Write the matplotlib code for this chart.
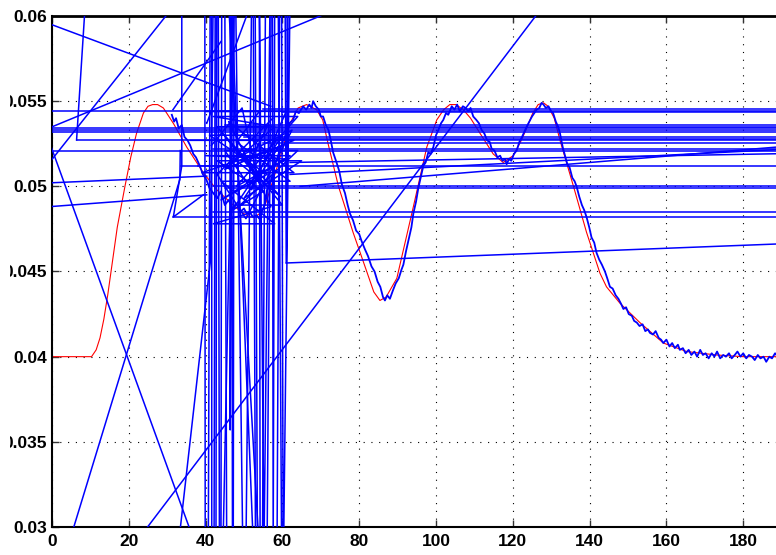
import numpy as np
import matplotlib
matplotlib.use("Agg")
import matplotlib.pyplot as plt
from matplotlib.patches import Rectangle

# ---------------- data ----------------
x_ticks = [0, 20, 40, 60, 80, 100, 120, 140, 160, 180]
x_tick_labels = ['0', '20', '40', '60', '80', '100', '120', '140', '160', '180']
y_ticks = [0.03, 0.035, 0.04, 0.045, 0.05, 0.055, 0.06]
y_tick_labels = ['0.03', '0.035', '0.04', '0.045', '0.05', '0.055', '0.06']

# reference (red) curve
red_x = [0, 10.3, 11.5, 12.5, 13.5, 14.5, 15.5, 17.0, 19.0, 20.5,
         22.0, 23.8, 25.0, 26.2, 27.5, 29.0, 31.6, 35.1, 39.4, 42.9,
         47.2, 49.5, 51.6, 53.0, 54.2, 55.5, 56.8, 59.4, 62.0, 64.1,
         66.3, 68.9, 70.5, 71.9, 74.6, 78.4, 81.5, 83.8, 85.4, 87.0,
         89.8, 94.1, 97.6, 100.2, 102.0, 103.6, 105.2, 107.1, 109.0, 111.5,
         114.9, 117.5, 120.1, 122.0, 123.6, 125.2, 126.6, 128.0, 129.2, 130.8,
         132.3, 135.8, 139.2, 142.7, 144.4, 147.9, 153.1, 159.2, 165.3, 173.0,
         180.0, 190.0, 200.0]
red_y = [0.0400, 0.0400, 0.0404, 0.0411, 0.0422, 0.0436, 0.0452, 0.0476, 0.0500, 0.0517,
         0.0531, 0.0543, 0.0547, 0.0548, 0.0548, 0.0546, 0.0537, 0.0523, 0.0508, 0.0498,
         0.0489, 0.04845, 0.0482, 0.04823, 0.04842, 0.0489, 0.0498, 0.0517, 0.0537, 0.0546,
         0.0548, 0.0545, 0.0539, 0.0525, 0.0500, 0.0473, 0.0453, 0.0438, 0.0433, 0.0435,
         0.0446, 0.0488, 0.0523, 0.0539, 0.0545, 0.0548, 0.0548, 0.0545, 0.0540, 0.0531,
         0.0519, 0.0514, 0.0518, 0.0526, 0.0534, 0.0543, 0.0548, 0.0549, 0.0547, 0.0540,
         0.0527, 0.0500, 0.0473, 0.0449, 0.0441, 0.04314, 0.0420, 0.0408, 0.0403, 0.0401,
         0.0400, 0.0400, 0.0400]

# measured (blue) trace, (x, y) samples
blue_trace = [
    (31.2, 0.0542), (31.8, 0.0538), (32.3, 0.0540), (33.0, 0.0534), (33.8, 0.0536),
    (34.5, 0.0529), (35.3, 0.0527), (36.0, 0.0524), (36.8, 0.0519), (37.5, 0.0517),
    (38.5, 0.0512), (39.3, 0.0507), (40.2, 0.0504), (41.0, 0.0499), (42.0, 0.0496),
    (43.0, 0.0493), (44.0, 0.0497), (45.0, 0.0489), (46.0, 0.0492), (47.0, 0.0487),
    (48.0, 0.0490), (49.0, 0.0485), (50.0, 0.0487), (50.7, 0.0484), (51.5, 0.0485),
    (52.3, 0.0482), (53.3, 0.0483), (54.0, 0.0481), (54.8, 0.0486), (55.5, 0.0490),
    (56.0, 0.0498), (57.0, 0.0503), (58.0, 0.0512), (59.0, 0.0519), (60.2, 0.0527),
    (61.0, 0.0531), (61.8, 0.0537), (62.8, 0.0539), (63.5, 0.0544), (64.3, 0.0543),
    (65.4, 0.0547), (66.2, 0.0545), (67.0, 0.0548), (67.6, 0.0546), (68.0, 0.0550),
    (68.7, 0.0547), (69.5, 0.0545), (70.0, 0.0541), (70.6, 0.0541), (71.3, 0.0536),
    (72.0, 0.0533), (72.6, 0.0527), (73.2, 0.0520), (74.1, 0.0514), (74.8, 0.0509),
    (75.5, 0.0501), (76.3, 0.0496), (77.0, 0.0489), (77.6, 0.0484), (78.4, 0.0480),
    (79.2, 0.0474), (80.0, 0.0472), (80.6, 0.0468), (81.5, 0.0463), (82.3, 0.0459),
    (83.2, 0.0453), (84.0, 0.0450), (84.8, 0.0444), (85.5, 0.0441), (86.2, 0.0435),
    (86.7, 0.0433), (87.3, 0.0436), (88.0, 0.0434), (88.8, 0.0439), (89.5, 0.0443),
    (90.3, 0.0446), (91.0, 0.0451), (91.5, 0.0454), (92.2, 0.0462), (93.0, 0.0470),
    (93.6, 0.0476), (94.1, 0.0484), (94.8, 0.0491), (95.4, 0.0499), (96.0, 0.0505),
    (96.7, 0.0512), (97.3, 0.0514), (98.0, 0.0520), (98.6, 0.0519), (99.3, 0.0523),
    (100.0, 0.0530), (100.6, 0.0533), (101.3, 0.0537), (101.9, 0.0539), (102.6, 0.0543),
    (103.2, 0.0542), (104.1, 0.0547), (104.8, 0.0545), (105.5, 0.0548), (106.2, 0.0544),
    (107.0, 0.0547), (107.7, 0.0546), (108.4, 0.0544), (109.0, 0.0546), (109.7, 0.0541),
    (110.5, 0.0539), (111.2, 0.0537), (111.9, 0.0533), (112.6, 0.0531), (113.3, 0.0527),
    (114.0, 0.0526), (114.5, 0.0522), (115.2, 0.0521), (116.0, 0.0517), (116.7, 0.0518),
    (117.3, 0.0515), (118.0, 0.0516), (118.4, 0.0513), (119.0, 0.0516), (119.6, 0.0515),
    (120.3, 0.0519), (121.0, 0.0521), (121.7, 0.0526), (122.4, 0.0529), (123.0, 0.0532),
    (123.6, 0.0535), (124.3, 0.0538), (125.0, 0.0541), (125.6, 0.0543), (126.2, 0.0545),
    (126.9, 0.0546), (127.5, 0.0549), (128.0, 0.0548), (128.6, 0.0546), (129.3, 0.0547),
    (130.0, 0.0544), (130.5, 0.0543), (131.2, 0.0538), (131.8, 0.0535), (132.3, 0.0531),
    (133.0, 0.0523), (133.6, 0.0518), (134.2, 0.0513), (134.8, 0.0511), (135.5, 0.0505),
    (136.1, 0.0503), (136.6, 0.0500), (137.3, 0.0494), (138.0, 0.0489), (138.6, 0.0486),
    (139.2, 0.0482), (139.9, 0.0476), (140.5, 0.0470), (141.2, 0.0467), (141.8, 0.0461),
    (142.5, 0.0457), (143.2, 0.0454), (144.0, 0.0450), (144.6, 0.0446), (145.3, 0.0441),
    (146.0, 0.0440), (146.8, 0.0436), (147.5, 0.0434), (148.2, 0.0431), (148.8, 0.0428),
    (149.5, 0.0429), (150.2, 0.0425), (151.0, 0.0424), (151.6, 0.0421), (152.3, 0.0420),
    (153.0, 0.0418), (153.8, 0.0419), (154.5, 0.0415), (155.2, 0.0416), (155.7, 0.0414),
    (156.5, 0.0413), (157.2, 0.0415), (158.0, 0.0411), (158.6, 0.0410), (159.2, 0.0408),
    (160.0, 0.0410), (160.8, 0.0406), (161.5, 0.0408), (162.2, 0.0405), (163.0, 0.0407),
    (163.5, 0.0404), (164.3, 0.0405), (165.0, 0.0402), (165.8, 0.0404), (166.5, 0.0401),
    (167.3, 0.0403), (168.0, 0.0400), (168.8, 0.0404), (169.5, 0.0401), (170.2, 0.0402),
    (171.0, 0.0399), (171.8, 0.0402), (172.5, 0.0400), (173.2, 0.0403), (174.0, 0.0399),
    (174.8, 0.0401), (175.5, 0.0400), (176.3, 0.0402), (177.0, 0.0399), (177.8, 0.0401),
    (178.5, 0.0403), (179.3, 0.0400), (180.0, 0.0402), (180.8, 0.0399), (181.5, 0.0401),
    (182.3, 0.0400), (183.0, 0.0398), (183.8, 0.0401), (184.5, 0.0399), (185.3, 0.0400),
    (186.0, 0.0397), (186.8, 0.0400), (187.5, 0.0399), (188.3, 0.0402), (189.0, 0.0400),
    (189.8, 0.0401),
]

# spurious (glitch) horizontal lines of the blue trace: full width levels
glitch_full_levels = [0.0544, 0.0534, 0.0533, 0.0532, 0.0521]
# glitch lines starting at (x, y) and running off the right edge
glitch_right_starts = [(6.4, 0.05272), (55.0, 0.05454), (60.0, 0.05436), (45.0, 0.0536),
                       (47.0, 0.0535), (50.0, 0.0529), (52.0, 0.0528), (55.0, 0.05254),
                       (42.0, 0.0522), (33.5, 0.0512), (42.0, 0.0500), (45.0, 0.0499),
                       (42.0, 0.04849), (31.6, 0.0482)]
# other glitch polylines
glitch_paths = [
    [(-1, 0.05957), (57, 0.0547)],
    [(-1, 0.0534), (72, 0.0602)],
    [(-1, 0.0513), (30, 0.0601)],
    [(8.6, 0.0605), (6.4, 0.05272)],
    [(33.8, 0.0605), (33.8, 0.0512), (31.6, 0.0482), (39.4, 0.0495)],
    [(31.5, 0.0545), (44, 0.0585)],
    [(-1, 0.0528), (36.5, 0.0295)],
    [(5.0, 0.0295), (33.3, 0.0504), (33.4, 0.0521)],
    [(23.2, 0.0295), (130, 0.0612)],
    [(33.2, 0.0295), (41.2, 0.0455), (42.0, 0.0615)],
    [(-1, 0.0502), (40.3, 0.0506)],
    [(-1, 0.0488), (40.3, 0.0495)],
    [(40.3, 0.0537), (51, 0.0602)],
    [(62, 0.0507), (210, 0.0524)],
    [(62, 0.0514), (210, 0.0520)],
    [(64.6, 0.0500), (210, 0.0527)],
    [(61.0, 0.0455), (210, 0.0468)],
    [(45.8, 0.0615), (54.0, 0.0285)],
    [(46.6, 0.0615), (52.5, 0.0285)],
    [(44.5, 0.0285), (47.5, 0.0615)],
    [(39.8, 0.0615), (39.9, 0.0285), (40.7, 0.0285), (41.2, 0.0615), (41.6, 0.0615),
     (41.6, 0.0285), (42.2, 0.0285), (42.5, 0.0615), (42.9, 0.0615), (42.7, 0.0285),
     (43.6, 0.0285), (43.3, 0.0615), (44.2, 0.0615), (44.0, 0.0285), (45.5, 0.0285),
     (45.0, 0.0615), (46.4, 0.0615), (46.4, 0.0357), (46.8, 0.0615), (47.0, 0.0285),
     (47.2, 0.0285), (47.4, 0.0615), (47.8, 0.0615), (49.7, 0.0285), (50.5, 0.0285),
     (52.0, 0.0615), (52.9, 0.0615), (53.5, 0.0285), (54.2, 0.0285), (54.0, 0.0615),
     (55.2, 0.0285), (56.8, 0.0615), (57.4, 0.0615), (57.6, 0.0285), (58.0, 0.0615),
     (58.9, 0.0615), (59.8, 0.0285), (60.2, 0.0285), (59.8, 0.0615), (60.7, 0.0615),
     (61.0, 0.0455), (61.5, 0.0615), (62.0, 0.0615), (60.3, 0.0285)],
    [(52.4, 0.0615), (53.0, 0.0285), (54.8, 0.0285), (55.6, 0.0615), (57.1, 0.0615),
     (56.0, 0.0285), (58.6, 0.0285), (59.3, 0.0615), (61.2, 0.0615), (61.3, 0.0500)],
    [(36, 0.0527), (63, 0.0527), (45, 0.0510), (58, 0.0535), (42, 0.0541), (64, 0.0541),
     (48, 0.0500), (61, 0.0516), (40, 0.0518), (62, 0.0518), (44, 0.0492), (56, 0.0507),
     (41, 0.0530), (60, 0.0530), (47, 0.0486), (55, 0.0497), (43, 0.0515), (65, 0.0515),
     (50, 0.0493), (59, 0.0523), (39, 0.0508), (63, 0.0508), (46, 0.0538), (57, 0.0488),
     (42, 0.0478), (58, 0.0478), (44, 0.0503), (62, 0.0503), (48, 0.0526), (54, 0.0544),
     (40, 0.0544), (61, 0.0544), (52, 0.0498), (45, 0.0521), (64, 0.0521), (49, 0.0489),
     (60, 0.0489), (43, 0.0535), (56, 0.0535), (51, 0.0512), (38, 0.0512)],
    [(41.5, 0.0524), (49.5, 0.0546), (53.5, 0.0505), (44.5, 0.0531), (59.5, 0.0494),
     (47.5, 0.0516), (62.5, 0.0533), (50.5, 0.0481), (43.0, 0.0507), (57.5, 0.0540)],
]

# ---------------- figure ----------------
W, H = 776, 555
fig = plt.figure(figsize=(W / 100, H / 100), dpi=100)
ax = fig.add_axes([52 / W, 28 / H, 768 / W, 511 / H])

blue = '#0000ff'
red = '#ff0000'
blw = 1.1

ax.plot(red_x, red_y, color=red, lw=0.8, zorder=2)

bx = [p[0] for p in blue_trace]
by = [p[1] for p in blue_trace]
ax.plot(bx, by, color=blue, lw=1.3, zorder=3)

for yl in glitch_full_levels:
    ax.plot([-5, 210], [yl, yl], color=blue, lw=blw, zorder=3)
for (xs, ys) in glitch_right_starts:
    ax.plot([xs, 210], [ys, ys], color=blue, lw=blw, zorder=3)
for path in glitch_paths:
    ax.plot([p[0] for p in path], [p[1] for p in path], color=blue, lw=blw, zorder=3)

ax.set_xlim(0, 200)
ax.set_ylim(0.03, 0.06)
ax.set_xticks(x_ticks)
ax.set_xticklabels(x_tick_labels)
ax.set_yticks(y_ticks)
ax.set_yticklabels(y_tick_labels)

ax.grid(True, color='black', linestyle=(0, (1, 6)), linewidth=0.8)
ax.tick_params(direction='in', length=5, width=1.0, top=True, right=True,
               color='#333333')
ax.tick_params(axis='x', pad=5)
ax.tick_params(axis='y', pad=3.5)
for lab in ax.get_xticklabels() + ax.get_yticklabels():
    lab.set_fontfamily('Liberation Sans')
    lab.set_fontweight('bold')
    lab.set_fontsize(12.5)
for s in ax.spines.values():
    s.set_linewidth(1.5)
    s.set_color('black')
ax.spines['top'].set_linewidth(2.0)

# left margin of the original picture cuts off the longer labels
fig.add_artist(Rectangle((0, 0), 10 / W, 1, transform=fig.transFigure,
                         facecolor='white', edgecolor='none', zorder=10))

fig.savefig('out.png', dpi=100)
